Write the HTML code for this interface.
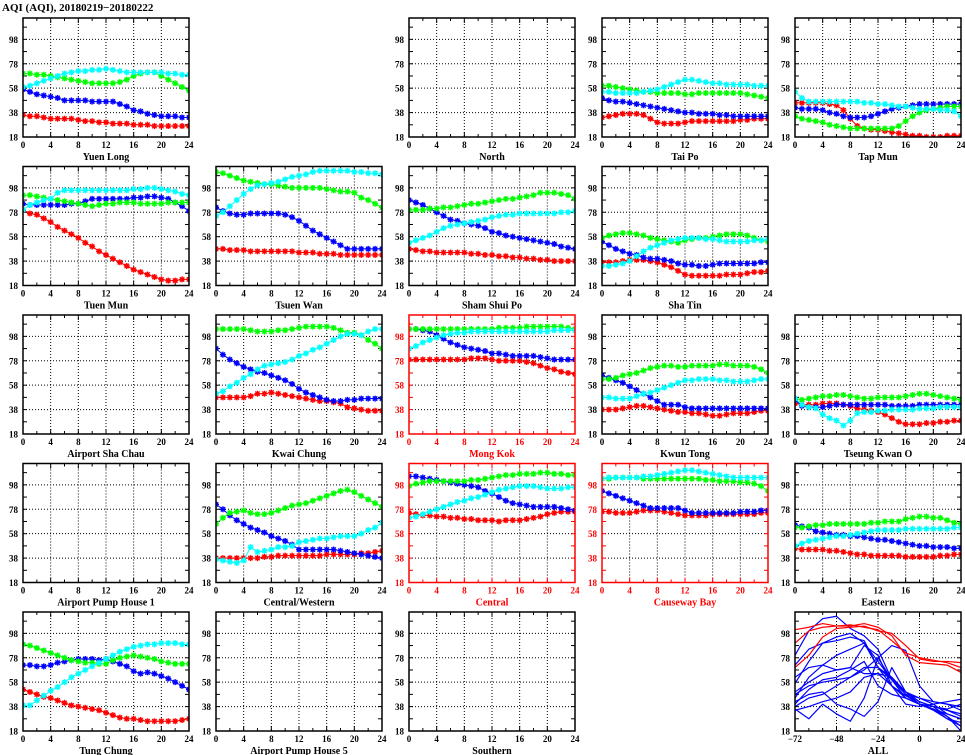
<!DOCTYPE html>
<html><head><meta charset="utf-8"><style>
html,body{margin:0;padding:0;background:#fff;}
svg{display:block;font-family:"Liberation Serif",serif;font-weight:bold;}
</style></head><body>
<svg id="chart" width="965" height="755" viewBox="0 0 965 755" xmlns="http://www.w3.org/2000/svg">
<text x="2" y="11" font-size="11">AQI (AQI), 20180219−20180222</text>
</svg>
<script>
// ---- data ----
const yTicks = [18, 38, 58, 78, 98];
const xTicks = [0, 4, 8, 12, 16, 20, 24];
const allXTicks = [-72, -48, -24, 0, 24];
const hours = [0,1,2,3,4,5,6,7,8,9,10,11,12,13,14,15,16,17,18,19,20,21,22,23,24];
const allX = [-72,-64,-56,-48,-40,-32,-24,-16,-8,0,8,16,24];
const seriesColors = ['#ff0000','#0000ff','#00ff00','#00ffff'];

const stationNames = ['Yuen Long','','North','Tai Po','Tap Mun',
 'Tuen Mun','Tsuen Wan','Sham Shui Po','Sha Tin','',
 'Airport Sha Chau','Kwai Chung','Mong Kok','Kwun Tong','Tseung Kwan O',
 'Airport Pump House 1','Central/Western','Central','Causeway Bay','Eastern',
 'Tung Chung','Airport Pump House 5','Southern','','ALL'];
const roadside = ['Mong Kok','Central','Causeway Bay'];

const yuenLongRed   = [36,35,35,34,33,33,33,33,32,31,31,30,30,29,29,29,28,28,28,27,27,27,27,27,27];
const yuenLongBlue  = [57,55,53,52,51,50,48,48,48,48,47,47,47,47,45,43,40,39,37,36,35,35,35,34,34];
const yuenLongGreen = [70,70,69,69,68,67,66,65,64,63,62,62,62,62,63,65,68,70,71,71,68,65,62,59,56];
const yuenLongCyan  = [59,60,62,64,66,68,70,71,72,72,73,73,74,73,72,71,71,71,71,71,71,70,70,69,69];

const taiPoRed   = [34,35,36,37,37,37,36,33,30,29,29,29,30,31,31,31,31,31,31,31,32,32,33,33,33];
const taiPoBlue  = [50,48,47,47,46,45,44,43,42,41,40,39,38,38,37,37,37,36,36,35,35,35,35,35,35];
const taiPoGreen = [60,60,59,58,57,56,55,55,54,54,54,54,53,53,54,54,54,54,54,54,54,53,52,51,50];
const taiPoCyan  = [55,55,54,54,54,54,55,56,57,59,61,63,65,65,64,63,62,62,61,61,61,61,60,60,60];

const tapMunRed   = [46,46,46,46,46,45,44,40,33,27,25,24,24,23,22,21,20,19,19,18,18,18,19,19,19];
const tapMunBlue  = [42,41,41,41,40,38,37,35,34,34,34,35,37,39,41,42,43,44,45,45,45,45,45,45,45];
const tapMunGreen = [35,33,32,31,30,28,27,26,25,25,25,25,25,25,25,27,31,35,38,40,41,42,43,43,43];
const tapMunCyan  = [55,50,47,47,47,47,47,47,47,47,46,46,45,45,44,43,43,42,41,41,41,40,40,39,35];

const tuenMunRed   = [80,77,76,73,70,66,63,60,57,53,50,46,43,40,37,34,31,29,27,25,23,22,22,23,23];
const tuenMunBlue  = [85,84,84,84,84,84,84,85,85,87,89,89,89,89,89,89,90,90,91,91,90,89,86,83,79];
const tuenMunGreen = [92,92,91,90,89,88,87,86,85,84,83,84,85,85,86,86,86,85,85,85,85,86,86,86,86];
const tuenMunCyan  = [80,84,86,88,89,94,96,96,96,96,96,96,96,96,96,96,97,97,98,98,97,96,95,93,92];

const tsuenWanRed   = [48,48,47,47,47,46,46,46,46,46,46,46,45,45,45,44,44,44,43,43,43,43,43,43,43];
const tsuenWanBlue  = [82,79,77,76,76,77,77,77,77,77,76,74,71,67,63,60,57,54,51,48,48,48,48,48,48];
const tsuenWanGreen = [111,110,108,106,104,103,102,101,101,100,99,98,98,98,98,98,97,96,95,95,94,90,88,85,82];
const tsuenWanCyan  = [75,78,83,88,93,97,100,101,102,103,105,107,108,109,111,112,112,112,112,112,111,111,110,110,109];

const shamShuiPoRed   = [48,47,46,46,45,45,45,45,45,44,44,43,43,42,42,41,41,40,40,39,39,38,38,38,38];
const shamShuiPoBlue  = [88,86,84,81,78,75,72,71,69,68,67,65,62,61,59,58,57,56,55,54,53,52,50,49,48];
const shamShuiPoGreen = [80,80,80,81,81,82,82,83,84,85,85,86,87,88,89,89,90,91,92,94,94,94,93,92,89];
const shamShuiPoCyan  = [53,55,57,59,62,65,67,68,69,70,71,72,74,75,76,76,77,77,77,77,77,77,78,78,79];

const shaTinRed   = [37,37,37,38,39,39,39,38,37,35,33,30,27,26,26,26,26,26,27,27,27,28,29,29,30];
const shaTinBlue  = [54,51,48,46,44,43,41,40,40,39,38,36,35,35,34,34,35,36,36,36,36,36,36,37,37];
const shaTinGreen = [57,59,60,61,61,60,59,57,56,55,54,53,55,56,57,57,58,59,60,60,60,59,57,55,54];
const shaTinCyan  = [34,34,35,36,38,42,46,49,51,53,55,56,57,57,57,56,56,55,54,54,54,54,55,55,56];

const kwaiChungRed   = [48,48,48,48,48,49,51,51,52,51,50,49,48,47,46,45,45,44,43,40,39,38,37,37,37];
const kwaiChungBlue  = [88,83,79,76,73,71,69,68,66,64,62,59,55,52,50,48,46,45,45,46,46,47,47,47,47];
const kwaiChungGreen = [104,104,104,104,104,103,102,102,102,103,103,104,105,106,106,106,106,105,103,101,101,99,95,92,88];
const kwaiChungCyan  = [51,53,57,60,64,67,71,74,75,76,77,79,82,84,87,89,92,95,98,100,100,99,102,104,104];

const mongKokRed   = [79,79,79,79,79,79,79,79,79,80,80,80,79,78,78,78,78,77,76,74,72,71,69,68,67];
const mongKokBlue  = [104,104,103,102,99,96,93,91,89,88,87,86,84,84,83,82,82,82,82,81,80,79,79,79,79];
const mongKokGreen = [104,104,104,104,104,104,104,104,104,104,104,104,104,105,105,105,105,106,106,106,106,106,106,105,104];
const mongKokCyan  = [88,90,93,95,97,99,100,101,101,102,102,102,102,102,102,102,102,102,102,102,102,103,103,103,103];

const kwunTongRed   = [38,38,38,39,40,41,41,40,39,38,37,36,36,35,35,34,33,33,34,35,35,35,36,37,37];
const kwunTongBlue  = [66,64,62,60,57,54,51,48,45,42,42,42,40,39,39,39,39,39,39,39,39,39,39,39,39];
const kwunTongGreen = [63,63,64,66,67,68,70,72,73,74,74,73,73,74,74,74,74,75,75,74,74,74,73,71,68];
const kwunTongCyan  = [48,48,47,47,47,49,51,52,54,56,58,60,62,62,63,63,63,62,62,61,61,61,62,63,63];

const tkoRed   = [43,42,42,42,43,43,43,42,41,39,38,37,36,34,31,28,26,26,26,27,27,28,28,29,29];
const tkoBlue  = [46,41,40,40,40,41,42,42,42,42,42,42,42,42,41,41,41,41,42,42,42,42,42,42,42];
const tkoGreen = [47,46,47,48,49,49,50,50,49,48,47,47,48,48,48,48,49,50,51,51,50,49,48,47,46];
const tkoCyan  = [47,42,40,39,34,31,29,25,29,35,36,36,37,37,38,38,38,38,39,39,39,40,40,40,40];

const centralWesternRed   = [38,38,38,38,38,38,38,39,39,40,40,40,40,40,40,40,41,41,41,41,41,42,42,43,44];
const centralWesternBlue  = [82,78,73,69,66,63,61,59,56,54,52,49,45,45,45,45,45,45,44,43,42,41,40,39,38];
const centralWesternGreen = [66,71,75,76,77,75,74,74,75,77,79,81,82,83,85,87,89,91,93,94,92,89,86,83,80];
const centralWesternCyan  = [37,36,35,34,36,47,43,44,45,47,47,48,51,52,53,54,54,55,56,56,56,58,61,63,67];

const centralRed   = [75,74,73,73,72,72,71,71,70,70,69,69,69,68,69,69,69,70,71,72,74,75,76,76,76];
const centralBlue  = [105,105,104,103,102,101,100,99,98,97,96,93,91,88,85,83,82,81,80,80,80,80,79,78,77];
const centralGreen = [97,99,100,101,101,101,101,101,101,102,102,103,104,105,106,106,107,107,107,108,108,107,107,106,106];
const centralCyan  = [71,72,74,76,78,80,82,84,85,87,88,90,92,94,95,96,97,97,97,96,95,95,95,96,96];

const causewayBayRed   = [76,76,75,75,75,76,77,77,77,76,75,74,73,73,73,73,74,74,74,74,74,74,74,75,75];
const causewayBayBlue  = [93,91,89,87,85,83,81,79,79,79,79,79,77,75,75,75,75,75,75,75,76,76,76,77,77];
const causewayBayGreen = [103,103,104,104,104,104,103,103,103,103,103,103,103,103,103,102,102,101,101,101,100,100,99,97,93];
const causewayBayCyan  = [103,104,104,104,104,104,105,105,106,107,108,109,110,110,109,108,107,106,105,104,104,104,104,104,104];

const easternRed   = [46,45,45,45,45,44,44,43,42,41,41,40,40,40,40,40,39,39,39,39,39,40,40,41,41];
const easternBlue  = [65,64,63,60,59,58,57,57,56,56,55,54,53,53,52,51,50,49,48,48,47,47,47,46,46];
const easternGreen = [63,63,64,65,65,66,66,66,66,66,66,67,67,68,68,68,70,71,72,72,71,71,69,67,66];
const easternCyan  = [48,50,52,53,54,55,56,56,57,58,59,60,61,61,61,61,62,62,62,62,62,62,62,63,63];

const tungChungRed   = [52,50,48,46,45,43,41,39,38,37,36,35,33,31,29,28,28,27,26,26,26,26,26,27,28];
const tungChungBlue  = [72,72,71,71,72,74,75,76,77,77,77,76,77,75,73,71,67,65,66,65,63,61,58,55,52];
const tungChungGreen = [89,88,86,84,82,80,78,76,75,74,74,73,73,76,78,79,80,79,78,77,75,74,73,73,73];
const tungChungCyan  = [39,39,43,47,51,54,58,62,65,68,71,74,77,80,83,85,87,88,89,89,90,90,90,89,89];

const stationSeries = {
 'Yuen Long':[yuenLongRed,yuenLongBlue,yuenLongGreen,yuenLongCyan],
 'Tai Po':[taiPoRed,taiPoBlue,taiPoGreen,taiPoCyan],
 'Tap Mun':[tapMunRed,tapMunBlue,tapMunGreen,tapMunCyan],
 'Tuen Mun':[tuenMunRed,tuenMunBlue,tuenMunGreen,tuenMunCyan],
 'Tsuen Wan':[tsuenWanRed,tsuenWanBlue,tsuenWanGreen,tsuenWanCyan],
 'Sham Shui Po':[shamShuiPoRed,shamShuiPoBlue,shamShuiPoGreen,shamShuiPoCyan],
 'Sha Tin':[shaTinRed,shaTinBlue,shaTinGreen,shaTinCyan],
 'Kwai Chung':[kwaiChungRed,kwaiChungBlue,kwaiChungGreen,kwaiChungCyan],
 'Mong Kok':[mongKokRed,mongKokBlue,mongKokGreen,mongKokCyan],
 'Kwun Tong':[kwunTongRed,kwunTongBlue,kwunTongGreen,kwunTongCyan],
 'Tseung Kwan O':[tkoRed,tkoBlue,tkoGreen,tkoCyan],
 'Central/Western':[centralWesternRed,centralWesternBlue,centralWesternGreen,centralWesternCyan],
 'Central':[centralRed,centralBlue,centralGreen,centralCyan],
 'Causeway Bay':[causewayBayRed,causewayBayBlue,causewayBayGreen,causewayBayCyan],
 'Eastern':[easternRed,easternBlue,easternGreen,easternCyan],
 'Tung Chung':[tungChungRed,tungChungBlue,tungChungGreen,tungChungCyan]
};

const allRed1 = [90,100,103,104,105,103,101,92,82,78,76,74,70];
const allRed2 = [70,80,95,102,103,104,100,98,88,77,75,75,74];
const allRed3 = [101,103,106,104,104,106,103,96,80,74,73,72,66];
const allBlue1 = [80,100,110,112,102,96,85,60,48,45,40,32,28];
const allBlue2 = [57,75,90,95,98,90,70,55,45,40,38,35,32];
const allBlue3 = [45,62,72,80,85,90,75,60,50,45,42,40,38];
const allBlue4 = [40,52,60,62,68,75,55,48,45,40,36,32,28];
const allBlue5 = [35,38,42,45,50,62,65,55,47,40,38,36,40];
const allBlue6 = [48,55,58,60,62,70,70,62,50,42,38,30,22];
const allBlue7 = [36,28,40,32,26,45,78,60,45,40,35,28,22];
const allBlue8 = [38,45,48,55,62,68,78,88,84,55,42,40,35];
const allBlue9 = [62,70,72,68,70,88,80,55,40,38,40,42,44];
const allBlue10 = [42,48,50,40,36,30,42,70,50,40,36,30,18];
const allBlue11 = [72,85,90,92,95,92,70,60,50,42,38,35,30];
const allBlue12 = [50,58,65,68,70,65,65,62,48,40,36,28,25];
const allBlueSeries = [allBlue1,allBlue2,allBlue3,allBlue4,allBlue5,allBlue6,allBlue7,allBlue8,allBlue9,allBlue10,allBlue11,allBlue12];
const allRedSeries = [allRed1,allRed2,allRed3];

// ---- drawing ----
const NS = 'http://www.w3.org/2000/svg';
const svg = document.getElementById('chart');
const PW = 166, PH = 119, YMIN = 18, YMAX = 115.5;
function mk(tag, attrs, parent){
  const e = document.createElementNS(NS, tag);
  for (const k in attrs) e.setAttribute(k, attrs[k]);
  (parent || svg).appendChild(e);
  return e;
}
function slug(s){ return s.toLowerCase().replace(/[^a-z0-9]+/g,'-').replace(/^-|-$/g,''); }

stationNames.forEach((name, idx) => {
  if (!name) return;
  const col = idx % 5, row = Math.floor(idx / 5);
  const L = 23 + col * 193, T = 18 + row * 148.5;
  const isAll = name === 'ALL';
  const xmin = isAll ? -72 : 0, xmax = 24;
  const xs = v => L + (v - xmin) / (xmax - xmin) * PW;
  const ys = v => T + PH - (v - YMIN) / (YMAX - YMIN) * PH;
  const color = roadside.includes(name) ? '#ff0000' : '#000000';
  const g = mk('g', {});
  
  
  const clipId = 'clip' + idx;
  const cp = mk('clipPath', {id: clipId}, g);
  mk('rect', {x: L, y: T, width: PW, height: PH}, cp);

  const gx = isAll ? allXTicks : xTicks;
  gx.slice(1, -1).forEach(v => {
    const l = mk('line', {x1: xs(v), x2: xs(v), y1: T, y2: T + PH, stroke: '#000', 'stroke-width': 1, 'stroke-dasharray': '1,2'}, g);
    
    
  });
  yTicks.slice(1).forEach(v => {
    const l = mk('line', {x1: L, x2: L + PW, y1: ys(v), y2: ys(v), stroke: '#000', 'stroke-width': 1, 'stroke-dasharray': '1,2'}, g);
    
    
  });
  const step = isAll ? 8 : 2;
  for (let v = xmin; v <= xmax; v += step) {
    mk('line', {x1: xs(v), x2: xs(v), y1: T + PH, y2: T + PH - (v % (isAll ? 24 : 4) === 0 ? 5 : 3), stroke: color, 'stroke-width': 1}, g);
    mk('line', {x1: xs(v), x2: xs(v), y1: T, y2: T + (v % (isAll ? 24 : 4) === 0 ? 5 : 3), stroke: color, 'stroke-width': 1}, g);
  }
  for (let v = 18; v <= 108; v += 10) {
    mk('line', {x1: L, x2: L + 4, y1: ys(v), y2: ys(v), stroke: color, 'stroke-width': 1}, g);
    mk('line', {x1: L + PW, x2: L + PW - 4, y1: ys(v), y2: ys(v), stroke: color, 'stroke-width': 1}, g);
  }
  yTicks.forEach(v => {
    const t = mk('text', {x: L - 5, y: ys(v) + 3.5, 'font-size': 9, 'text-anchor': 'end', fill: color}, g);
    t.textContent = v;
    
    
  });
  gx.forEach(v => {
    const t = mk('text', {x: xs(v), y: T + PH + 11, 'font-size': 9, 'text-anchor': 'middle', fill: color}, g);
    t.textContent = v < 0 ? '−' + (-v) : v;
    
    
  });
  const title = mk('text', {x: L + PW / 2, y: T + PH + 23, 'font-size': 10, 'text-anchor': 'middle', fill: color}, g);
  title.textContent = name;
  
  

  const plot = mk('g', {'clip-path': 'url(#' + clipId + ')'}, g);
  if (isAll) {
    const drawAll = (arr, c) => {
      const p = mk('polyline', {points: arr.map((v, i) => xs(allX[i]) + ',' + ys(v)).join(' '), fill: 'none', stroke: c, 'stroke-width': 1.2, 'stroke-linejoin': 'round'}, plot);
      
      
    };
    allBlueSeries.forEach(a => drawAll(a, '#0000ff'));
    allRedSeries.forEach(a => drawAll(a, '#ff0000'));
  } else if (stationSeries[name]) {
    stationSeries[name].forEach((arr, si) => {
      const c = seriesColors[si];
      const sg = mk('g', {stroke: c, fill: 'none', 'stroke-width': 1}, plot);
      
      
      mk('polyline', {points: arr.map((v, i) => xs(hours[i]) + ',' + ys(v)).join(' ')}, sg);
      arr.forEach((v, i) => {
        const cx = xs(hours[i]), cy = ys(v), r = 3;
        const m = mk('path', {d: `M${cx-r},${cy}H${cx+r}M${cx},${cy-r}V${cy+r}M${cx-2.2},${cy-2.2}L${cx+2.2},${cy+2.2}M${cx-2.2},${cy+2.2}L${cx+2.2},${cy-2.2}`, 'stroke-width': 1.4}, sg);
        
        
      });
    });
  }
  const frame = mk('rect', {x: L, y: T, width: PW, height: PH, fill: 'none', stroke: color, 'stroke-width': 1.5}, g);
  
  
});
</script>
</body></html>
